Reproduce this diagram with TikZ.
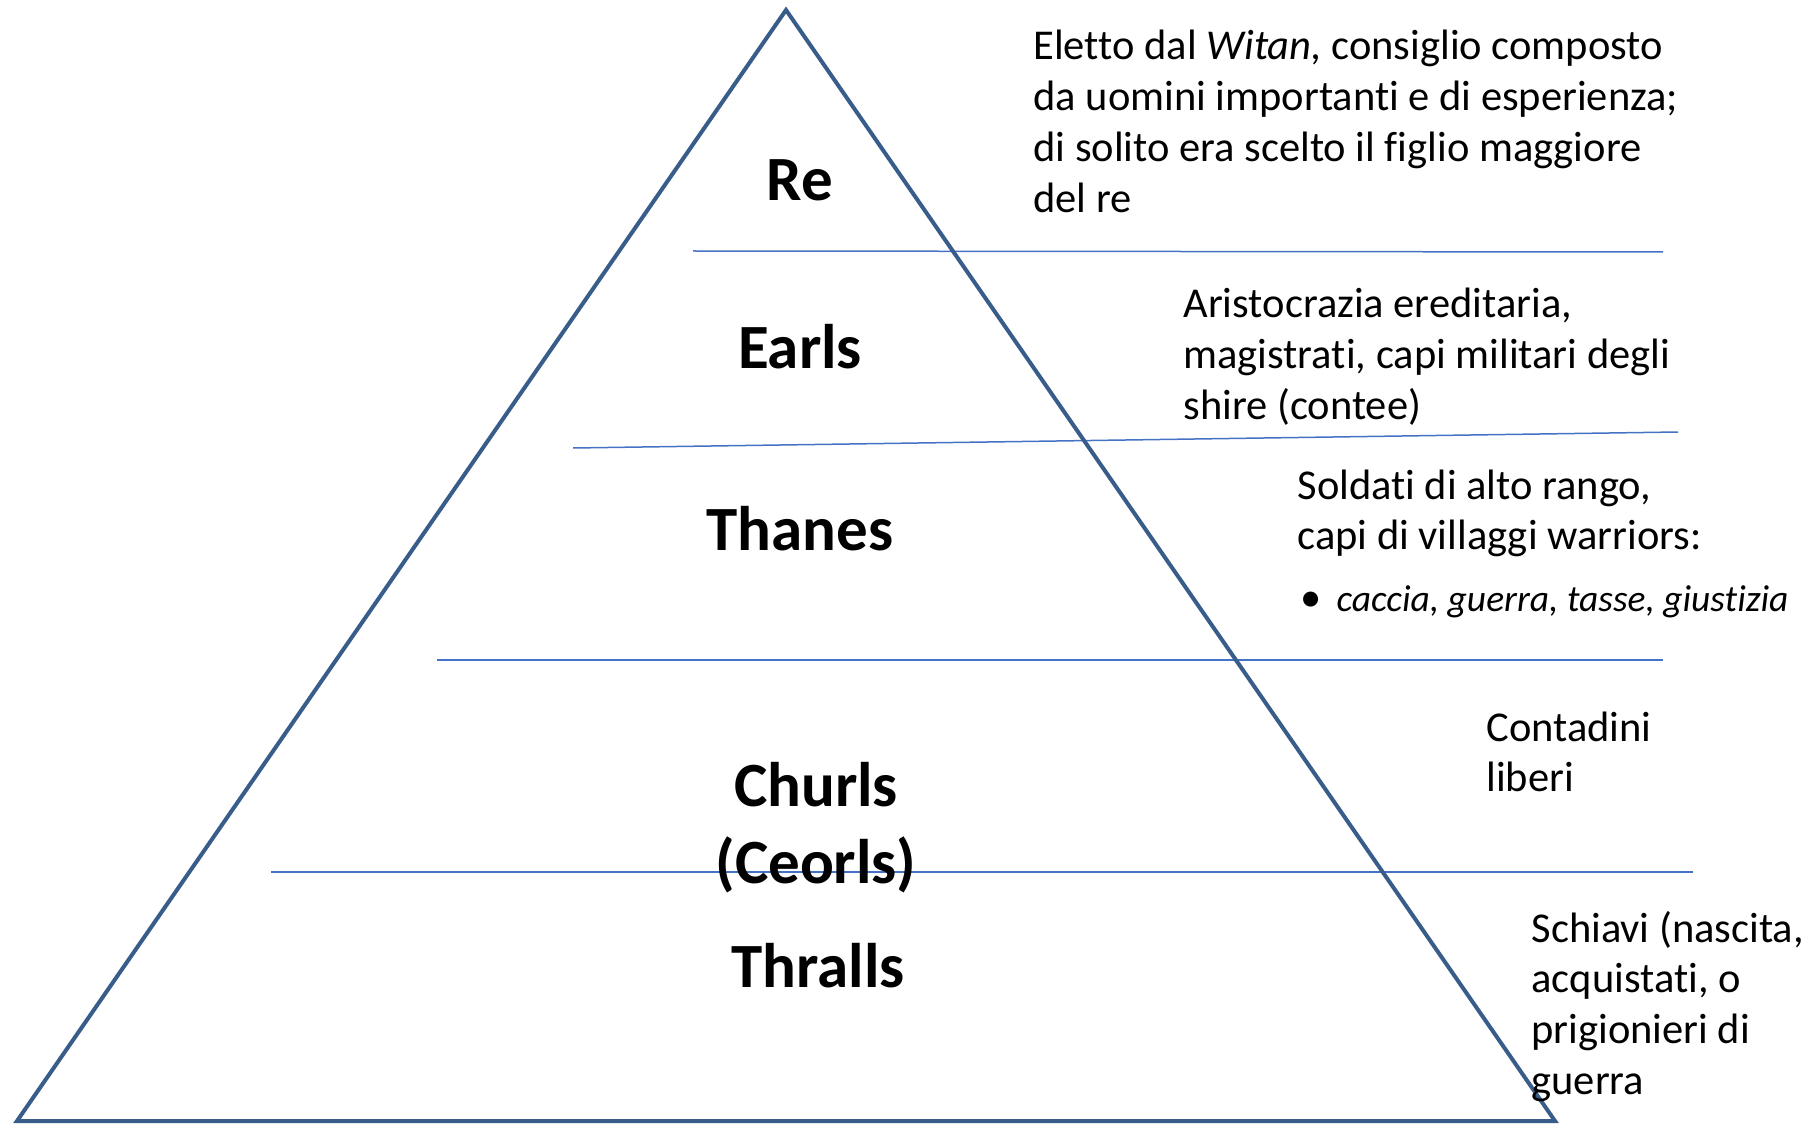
\documentclass[tikz,border=0pt]{standalone}
\usepackage{fontspec}
\setmainfont{Carlito}[Ligatures=NoCommon]
\definecolor{tri}{RGB}{56,93,138}
\definecolor{sep}{RGB}{68,114,196}
\begin{document}
\begin{tikzpicture}[x=0.4pt,y=-0.4pt,
  body/.style={anchor=base west,inner sep=0,font=\fontsize{17}{20.7}\selectfont},
  small/.style={anchor=base west,inner sep=0,font=\fontsize{15}{18.3}\selectfont\itshape},
  lab/.style={anchor=base,inner sep=0,font=\fontsize{25.2}{30.7}\selectfont\bfseries},
  sepline/.style={draw=sep,line width=0.6pt},
  triline/.style={draw=tri,line width=1.6pt,line join=miter}]
\useasboundingbox (0,0) rectangle (1803,1124);
% separator lines
\coordinate (l1a) at (693,251); \coordinate (l1b) at (1663,252);
\coordinate (l2a) at (573,448); \coordinate (l2b) at (1678,432);
\coordinate (l3a) at (437,660); \coordinate (l3b) at (1663,660);
\coordinate (l4a) at (271,872); \coordinate (l4b) at (1693,872);
\draw[sepline] (l1a) -- (l1b);
\draw[sepline] (l2a) -- (l2b);
\draw[sepline] (l3a) -- (l3b);
\draw[sepline] (l4a) -- (l4b);
% triangle
\coordinate (apex) at (786,10);
\coordinate (bl) at (17,1121);
\coordinate (br) at (1555,1121);
\draw[triline] (apex) -- (br) -- (bl) -- cycle;
% labels
\node[lab] (re) at (800,201) {Re};
\node[lab] (earls) at (800,368) {Earls};
\node[lab] (thanes) at (800,550) {Thanes};
\node[lab] (churls) at (816,806) {Churls};
\node[lab] (ceorls) at (816,883) {(Ceorls)};
\node[lab] (thralls) at (818,987) {Thralls};
% block 1
\node[body] (t1a) at (1033,60) {Eletto dal \textit{Witan,} consiglio composto};
\node[body] (t1b) at (1033,110.8) {da uomini importanti e di esperienza;};
\node[body] (t1c) at (1033,161.6) {di solito era scelto il figlio maggiore};
\node[body] (t1d) at (1033,212.4) {del re};
% block 2
\node[body] (t2a) at (1183,318) {Aristocrazia ereditaria,};
\node[body] (t2b) at (1183,368.8) {magistrati, capi militari degli};
\node[body] (t2c) at (1183,419.6) {shire (contee)};
% block 3
\node[body] (t3a) at (1297,499) {Soldati di alto rango,};
\node[body] (t3b) at (1297,549.8) {capi di villaggi warriors:};
\node[anchor=base,inner sep=0,font=\fontsize{17}{20.7}\selectfont] (bul) at (1311,611) {•};
\node[small] (t3c) at (1336,611) {caccia, guerra, tasse, giustizia};
% block 4
\node[body] (t4a) at (1486,741) {Contadini};
\node[body] (t4b) at (1486,791.8) {liberi};
% block 5
\node[body] (t5a) at (1531,942) {Schiavi (nascita,};
\node[body] (t5b) at (1531,992.8) {acquistati, o};
\node[body] (t5c) at (1531,1043.6) {prigionieri di};
\node[body] (t5d) at (1531,1094.4) {guerra};
\end{tikzpicture}
\end{document}
